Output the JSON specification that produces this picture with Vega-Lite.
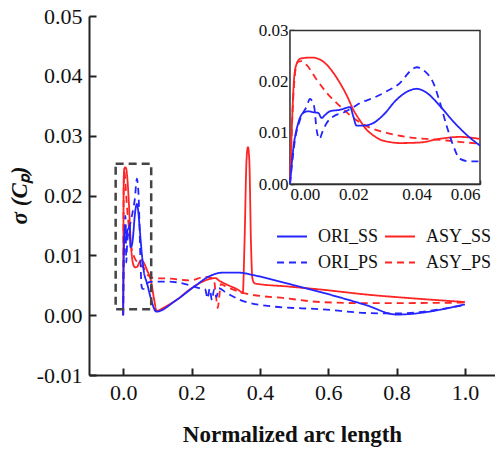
{
  "$schema": "https://vega.github.io/schema/vega-lite/v6.json",
  "autosize": {"type": "none"},
  "padding": {"left": 89, "top": 16, "right": 0, "bottom": 74},
  "width": 406,
  "height": 359,
  "background": "white",
  "config": {
    "view": {"stroke": null},
    "font": "Liberation Serif",
    "axis": {"grid": false, "domainColor": "#222", "tickColor": "#222", "labelColor": "#111", "labelFont": "Liberation Serif", "titleFont": "Liberation Serif", "titleColor": "#111"},
    "legend": {
      "orient": "none", "legendX": 187, "legendY": 208, "columns": 2, "direction": "horizontal", "symbolType": "stroke",
      "symbolSize": 900, "symbolStrokeWidth": 2, "labelFont": "Liberation Serif", "labelFontSize": 18,
      "labelColor": "#111", "clipHeight": 25, "rowPadding": 1, "columnPadding": 5, "labelOffset": 10, "padding": 0
    }
  },
  "datasets": {
    "d": [
      {"s": "ASY_SS", "x": 0, "y": 0},
      {"s": "ASY_SS", "x": 0.0007, "y": 0.013},
      {"s": "ASY_SS", "x": 0.0013, "y": 0.0207},
      {"s": "ASY_SS", "x": 0.002, "y": 0.0233},
      {"s": "ASY_SS", "x": 0.0033, "y": 0.0245},
      {"s": "ASY_SS", "x": 0.0068, "y": 0.0247},
      {"s": "ASY_SS", "x": 0.0095, "y": 0.0243},
      {"s": "ASY_SS", "x": 0.0116, "y": 0.0233},
      {"s": "ASY_SS", "x": 0.0137, "y": 0.0217},
      {"s": "ASY_SS", "x": 0.0158, "y": 0.0197},
      {"s": "ASY_SS", "x": 0.018, "y": 0.0172},
      {"s": "ASY_SS", "x": 0.02, "y": 0.0145},
      {"s": "ASY_SS", "x": 0.0221, "y": 0.0124},
      {"s": "ASY_SS", "x": 0.0242, "y": 0.0106},
      {"s": "ASY_SS", "x": 0.0263, "y": 0.0095},
      {"s": "ASY_SS", "x": 0.0284, "y": 0.0087},
      {"s": "ASY_SS", "x": 0.0315, "y": 0.0082},
      {"s": "ASY_SS", "x": 0.0347, "y": 0.008},
      {"s": "ASY_SS", "x": 0.041, "y": 0.0081},
      {"s": "ASY_SS", "x": 0.047, "y": 0.0088},
      {"s": "ASY_SS", "x": 0.0537, "y": 0.0092},
      {"s": "ASY_SS", "x": 0.06, "y": 0.0088},
      {"s": "ASY_SS", "x": 0.07, "y": 0.0075},
      {"s": "ASY_SS", "x": 0.081, "y": 0.0058},
      {"s": "ASY_SS", "x": 0.091, "y": 0.0025},
      {"s": "ASY_SS", "x": 0.098, "y": 0.0007},
      {"s": "ASY_SS", "x": 0.12, "y": 0.0013},
      {"s": "ASY_SS", "x": 0.155, "y": 0.0025},
      {"s": "ASY_SS", "x": 0.2, "y": 0.0045},
      {"s": "ASY_SS", "x": 0.25, "y": 0.006},
      {"s": "ASY_SS", "x": 0.27, "y": 0.0062},
      {"s": "ASY_SS", "x": 0.28, "y": 0.0058},
      {"s": "ASY_SS", "x": 0.3, "y": 0.0052},
      {"s": "ASY_SS", "x": 0.34, "y": 0.0041},
      {"s": "ASY_SS", "x": 0.35, "y": 0.0037},
      {"s": "ASY_SS", "x": 0.355, "y": 0.012},
      {"s": "ASY_SS", "x": 0.361, "y": 0.026},
      {"s": "ASY_SS", "x": 0.365, "y": 0.0281},
      {"s": "ASY_SS", "x": 0.369, "y": 0.026},
      {"s": "ASY_SS", "x": 0.374, "y": 0.012},
      {"s": "ASY_SS", "x": 0.378, "y": 0.0062},
      {"s": "ASY_SS", "x": 0.385, "y": 0.0053},
      {"s": "ASY_SS", "x": 0.48, "y": 0.0048},
      {"s": "ASY_SS", "x": 0.575, "y": 0.0043},
      {"s": "ASY_SS", "x": 0.72, "y": 0.0034},
      {"s": "ASY_SS", "x": 0.85, "y": 0.0028},
      {"s": "ASY_SS", "x": 1.0, "y": 0.0022},

      {"s": "ASY_PS", "x": 0, "y": 0},
      {"s": "ASY_PS", "x": 0.001, "y": 0.0165},
      {"s": "ASY_PS", "x": 0.0019, "y": 0.0229},
      {"s": "ASY_PS", "x": 0.0026, "y": 0.0239},
      {"s": "ASY_PS", "x": 0.0037, "y": 0.024},
      {"s": "ASY_PS", "x": 0.0053, "y": 0.0232},
      {"s": "ASY_PS", "x": 0.0084, "y": 0.0204},
      {"s": "ASY_PS", "x": 0.0116, "y": 0.0178},
      {"s": "ASY_PS", "x": 0.0158, "y": 0.0152},
      {"s": "ASY_PS", "x": 0.02, "y": 0.0129},
      {"s": "ASY_PS", "x": 0.0242, "y": 0.0113},
      {"s": "ASY_PS", "x": 0.0305, "y": 0.01},
      {"s": "ASY_PS", "x": 0.0368, "y": 0.0092},
      {"s": "ASY_PS", "x": 0.0432, "y": 0.0088},
      {"s": "ASY_PS", "x": 0.0495, "y": 0.0085},
      {"s": "ASY_PS", "x": 0.0558, "y": 0.0081},
      {"s": "ASY_PS", "x": 0.06, "y": 0.0079},
      {"s": "ASY_PS", "x": 0.07, "y": 0.0068},
      {"s": "ASY_PS", "x": 0.09, "y": 0.0062},
      {"s": "ASY_PS", "x": 0.14, "y": 0.0061},
      {"s": "ASY_PS", "x": 0.194, "y": 0.0058},
      {"s": "ASY_PS", "x": 0.242, "y": 0.0064},
      {"s": "ASY_PS", "x": 0.265, "y": 0.006},
      {"s": "ASY_PS", "x": 0.272, "y": 0.003},
      {"s": "ASY_PS", "x": 0.277, "y": 0.0012},
      {"s": "ASY_PS", "x": 0.281, "y": 0.003},
      {"s": "ASY_PS", "x": 0.286, "y": 0.0052},
      {"s": "ASY_PS", "x": 0.3, "y": 0.0048},
      {"s": "ASY_PS", "x": 0.36, "y": 0.0036},
      {"s": "ASY_PS", "x": 0.48, "y": 0.0028},
      {"s": "ASY_PS", "x": 0.575, "y": 0.0022},
      {"s": "ASY_PS", "x": 0.72, "y": 0.002},
      {"s": "ASY_PS", "x": 1.0, "y": 0.0021},

      {"s": "ORI_SS", "x": 0, "y": 0},
      {"s": "ORI_SS", "x": 0.001, "y": 0.0067},
      {"s": "ORI_SS", "x": 0.0026, "y": 0.0119},
      {"s": "ORI_SS", "x": 0.0042, "y": 0.0139},
      {"s": "ORI_SS", "x": 0.0058, "y": 0.0142},
      {"s": "ORI_SS", "x": 0.0074, "y": 0.014},
      {"s": "ORI_SS", "x": 0.0089, "y": 0.0139},
      {"s": "ORI_SS", "x": 0.01, "y": 0.0129},
      {"s": "ORI_SS", "x": 0.0111, "y": 0.0135},
      {"s": "ORI_SS", "x": 0.0126, "y": 0.0142},
      {"s": "ORI_SS", "x": 0.0158, "y": 0.0145},
      {"s": "ORI_SS", "x": 0.019, "y": 0.015},
      {"s": "ORI_SS", "x": 0.02, "y": 0.0132},
      {"s": "ORI_SS", "x": 0.021, "y": 0.0114},
      {"s": "ORI_SS", "x": 0.023, "y": 0.0114},
      {"s": "ORI_SS", "x": 0.0263, "y": 0.0119},
      {"s": "ORI_SS", "x": 0.0295, "y": 0.0135},
      {"s": "ORI_SS", "x": 0.0337, "y": 0.0165},
      {"s": "ORI_SS", "x": 0.0379, "y": 0.0183},
      {"s": "ORI_SS", "x": 0.04, "y": 0.0186},
      {"s": "ORI_SS", "x": 0.0432, "y": 0.0178},
      {"s": "ORI_SS", "x": 0.0474, "y": 0.0152},
      {"s": "ORI_SS", "x": 0.0516, "y": 0.0122},
      {"s": "ORI_SS", "x": 0.0558, "y": 0.0096},
      {"s": "ORI_SS", "x": 0.06, "y": 0.0075},
      {"s": "ORI_SS", "x": 0.07, "y": 0.0053},
      {"s": "ORI_SS", "x": 0.08, "y": 0.003},
      {"s": "ORI_SS", "x": 0.097, "y": 0.0006},
      {"s": "ORI_SS", "x": 0.155, "y": 0.0025},
      {"s": "ORI_SS", "x": 0.213, "y": 0.005},
      {"s": "ORI_SS", "x": 0.252, "y": 0.0065},
      {"s": "ORI_SS", "x": 0.29, "y": 0.0071},
      {"s": "ORI_SS", "x": 0.34, "y": 0.0071},
      {"s": "ORI_SS", "x": 0.38, "y": 0.0067},
      {"s": "ORI_SS", "x": 0.48, "y": 0.0053},
      {"s": "ORI_SS", "x": 0.575, "y": 0.0039},
      {"s": "ORI_SS", "x": 0.71, "y": 0.0017},
      {"s": "ORI_SS", "x": 0.8, "y": 0.0001},
      {"s": "ORI_SS", "x": 1.0, "y": 0.0018},

      {"s": "ORI_PS", "x": 0, "y": 0},
      {"s": "ORI_PS", "x": 0.0016, "y": 0.0087},
      {"s": "ORI_PS", "x": 0.0032, "y": 0.0126},
      {"s": "ORI_PS", "x": 0.0053, "y": 0.0152},
      {"s": "ORI_PS", "x": 0.0063, "y": 0.0166},
      {"s": "ORI_PS", "x": 0.0076, "y": 0.0152},
      {"s": "ORI_PS", "x": 0.0084, "y": 0.0106},
      {"s": "ORI_PS", "x": 0.0093, "y": 0.0088},
      {"s": "ORI_PS", "x": 0.0103, "y": 0.0103},
      {"s": "ORI_PS", "x": 0.0116, "y": 0.0119},
      {"s": "ORI_PS", "x": 0.0137, "y": 0.0132},
      {"s": "ORI_PS", "x": 0.0168, "y": 0.0139},
      {"s": "ORI_PS", "x": 0.0195, "y": 0.0148},
      {"s": "ORI_PS", "x": 0.0221, "y": 0.0158},
      {"s": "ORI_PS", "x": 0.0263, "y": 0.0168},
      {"s": "ORI_PS", "x": 0.0305, "y": 0.0181},
      {"s": "ORI_PS", "x": 0.0347, "y": 0.0197},
      {"s": "ORI_PS", "x": 0.0379, "y": 0.022},
      {"s": "ORI_PS", "x": 0.04, "y": 0.0228},
      {"s": "ORI_PS", "x": 0.0426, "y": 0.022},
      {"s": "ORI_PS", "x": 0.0453, "y": 0.0197},
      {"s": "ORI_PS", "x": 0.0474, "y": 0.0158},
      {"s": "ORI_PS", "x": 0.0495, "y": 0.0113},
      {"s": "ORI_PS", "x": 0.0516, "y": 0.0074},
      {"s": "ORI_PS", "x": 0.0537, "y": 0.0049},
      {"s": "ORI_PS", "x": 0.0568, "y": 0.0044},
      {"s": "ORI_PS", "x": 0.06, "y": 0.0044},
      {"s": "ORI_PS", "x": 0.066, "y": 0.0052},
      {"s": "ORI_PS", "x": 0.085, "y": 0.0056},
      {"s": "ORI_PS", "x": 0.135, "y": 0.0056},
      {"s": "ORI_PS", "x": 0.155, "y": 0.0055},
      {"s": "ORI_PS", "x": 0.194, "y": 0.005},
      {"s": "ORI_PS", "x": 0.223, "y": 0.0045},
      {"s": "ORI_PS", "x": 0.24, "y": 0.0043},
      {"s": "ORI_PS", "x": 0.247, "y": 0.0028},
      {"s": "ORI_PS", "x": 0.253, "y": 0.0044},
      {"s": "ORI_PS", "x": 0.26, "y": 0.0025},
      {"s": "ORI_PS", "x": 0.266, "y": 0.0043},
      {"s": "ORI_PS", "x": 0.273, "y": 0.003},
      {"s": "ORI_PS", "x": 0.28, "y": 0.0045},
      {"s": "ORI_PS", "x": 0.3, "y": 0.0038},
      {"s": "ORI_PS", "x": 0.34, "y": 0.0026},
      {"s": "ORI_PS", "x": 0.43, "y": 0.0015},
      {"s": "ORI_PS", "x": 0.575, "y": 0.001},
      {"s": "ORI_PS", "x": 0.75, "y": 0.0003},
      {"s": "ORI_PS", "x": 0.8, "y": 0.0003},
      {"s": "ORI_PS", "x": 1.0, "y": 0.0017}
    ],
    "box": [{"x1": -0.022, "x2": 0.082, "y1": 0.001, "y2": 0.0253}],
    "inset": [{"x1": 0, "x2": 0.06, "y1": 0, "y2": 0.03}]
  },
  "layer": [
    {
      "layer": [
        {
          "data": {"name": "d"},
          "mark": {"type": "line", "strokeWidth": 1.8, "interpolate": "monotone"},
          "encoding": {
            "x": {"field": "x", "type": "quantitative",
                  "scale": {"domain": [-0.1, 1.088], "nice": false, "zero": false},
                  "axis": {"orient": "bottom", "values": [0, 0.2, 0.4, 0.6, 0.8, 1.0], "format": ".1f",
                           "labelFontSize": 22, "tickSize": -7, "tickWidth": 2, "domainWidth": 2, "labelPadding": 14,
                           "title": "Normalized arc length", "titleFontSize": 23, "titleFontWeight": "bold",
                           "titleX": 203, "titleY": 66, "titleBaseline": "alphabetic", "titleAlign": "center"}},
            "y": {"field": "y", "type": "quantitative",
                  "scale": {"domain": [-0.01, 0.05], "nice": false, "zero": false},
                  "axis": {"orient": "left", "values": [-0.01, 0, 0.01, 0.02, 0.03, 0.04, 0.05],
                           "labelExpr": "datum.value < 0 ? '-' + format(-datum.value, '.2f') : format(datum.value, '.2f')",
                           "labelFontSize": 22, "tickSize": -7, "tickWidth": 2, "domainWidth": 2, "labelPadding": 14,
                           "title": "σ (Cₚ)", "titleFontSize": 23, "titleFontWeight": "bold", "titleFontStyle": "italic",
                           "titleAngle": -90, "titleX": -70, "titleY": 179, "titleBaseline": "middle", "titleAlign": "center"}},
            "color": {"field": "s", "type": "nominal",
                      "scale": {"domain": ["ORI_SS", "ASY_SS", "ORI_PS", "ASY_PS"], "range": ["#2424ff", "#ff2424", "#2424ff", "#ff2424"]},
                      "legend": {"title": null}},
            "strokeDash": {"field": "s", "type": "nominal",
                           "scale": {"domain": ["ORI_SS", "ASY_SS", "ORI_PS", "ASY_PS"], "range": [[1, 0], [1, 0], [7, 5], [7, 5]]},
                           "legend": {"title": null}}
          }
        },
        {
          "data": {"name": "box"},
          "mark": {"type": "rect", "fill": null, "stroke": "#444", "strokeWidth": 2.5, "strokeDash": [8, 5]},
          "encoding": {
            "x": {"field": "x1", "type": "quantitative"},
            "x2": {"field": "x2"},
            "y": {"field": "y1", "type": "quantitative"},
            "y2": {"field": "y2"}
          }
        },
        {
          "mark": {"type": "rule", "color": "#222", "strokeWidth": 2},
          "encoding": {"y": {"datum": 0.05}}
        }
      ]
    },
    {
      "layer": [
        {
          "data": {"name": "inset"},
          "mark": {"type": "rect", "fill": "white", "stroke": "#333", "strokeWidth": 1.5},
          "encoding": {
            "x": {"field": "x1", "type": "quantitative",
                  "scale": {"domain": [0, 0.06], "range": [201, 391], "nice": false, "zero": false},
                  "axis": {"orient": "bottom", "offset": -191, "values": [0, 0.02, 0.04, 0.06], "format": ".2f",
                           "labelFontSize": 17, "tickSize": -4, "tickWidth": 1.5, "domainWidth": 1.5, "labelPadding": 6, "title": null}},
            "x2": {"field": "x2"},
            "y": {"field": "y1", "type": "quantitative",
                  "scale": {"domain": [0, 0.03], "range": [168, 14.4], "nice": false, "zero": false},
                  "axis": {"orient": "left", "offset": -201, "values": [0, 0.01, 0.02, 0.03], "format": ".2f",
                           "labelFontSize": 17, "tickSize": -4, "tickWidth": 1.5, "domainWidth": 1.5, "labelPadding": 6, "title": null}},
            "y2": {"field": "y2"}
          }
        },
        {
          "data": {"name": "d"},
          "transform": [{"filter": "datum.x <= 0.0601"}],
          "mark": {"type": "line", "strokeWidth": 1.8, "interpolate": "monotone", "clip": true},
          "encoding": {
            "x": {"field": "x", "type": "quantitative"},
            "y": {"field": "y", "type": "quantitative"},
            "color": {"field": "s", "type": "nominal", "legend": null},
            "strokeDash": {"field": "s", "type": "nominal", "legend": null}
          }
        }
      ]
    }
  ],
  "resolve": {"scale": {"x": "independent", "y": "independent"}, "axis": {"x": "independent", "y": "independent"}}
}
